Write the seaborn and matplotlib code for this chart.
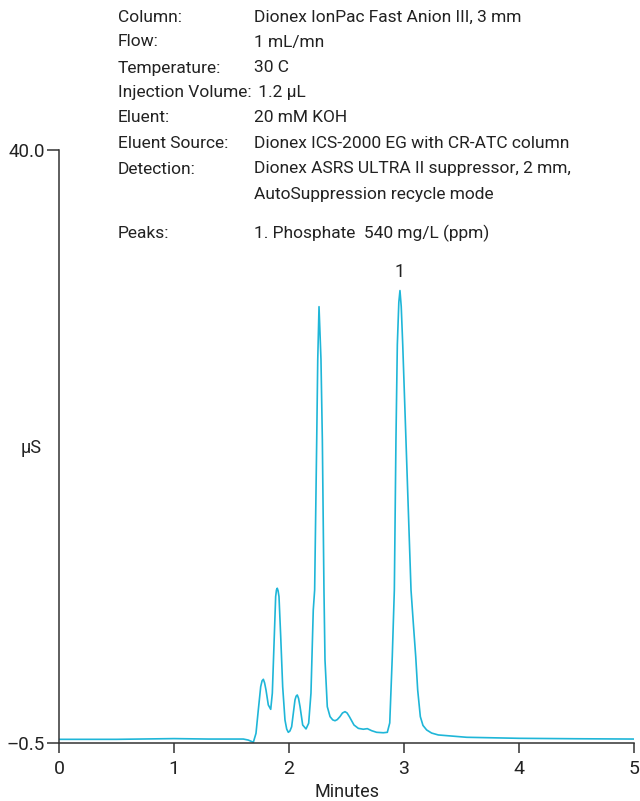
import matplotlib
matplotlib.use("Agg")
import matplotlib.pyplot as plt
import seaborn as sns
import pandas as pd

# Chromatogram trace: retention time (min) and conductivity (µS)
time_min = [
    0.00, 0.50, 1.00, 1.30, 1.487, 1.603, 1.646, 1.690, 1.713, 1.733, 1.754,
    1.766, 1.777, 1.788, 1.800, 1.820, 1.841, 1.855, 1.870, 1.884, 1.891,
    1.898, 1.905, 1.913, 1.928, 1.945, 1.965, 1.980, 1.994, 2.008, 2.023,
    2.052, 2.062, 2.072, 2.083, 2.096, 2.119, 2.148, 2.171, 2.191, 2.211,
    2.223, 2.241, 2.250, 2.261, 2.278, 2.290, 2.304, 2.313, 2.333, 2.357,
    2.380, 2.400, 2.420, 2.443, 2.465, 2.487, 2.505, 2.525, 2.565, 2.603,
    2.646, 2.681, 2.719, 2.762, 2.820, 2.855, 2.876, 2.887, 2.898, 2.916,
    2.930, 2.942, 2.955, 2.965, 2.976, 2.989, 3.017, 3.061, 3.081, 3.102,
    3.119, 3.142, 3.165, 3.197, 3.240, 3.298, 3.545, 4.000, 4.500, 5.000,
]
signal_us = [
    -0.25, -0.25, -0.20, -0.23, -0.23, -0.23, -0.30, -0.45, 0.16, 1.75, 3.35,
    3.75, 3.85, 3.60, 3.12, 2.10, 1.80, 2.90, 6.31, 9.50, 9.95,
    10.07, 9.90, 9.50, 6.76, 3.35, 1.07, 0.45, 0.23, 0.32, 0.61,
    2.44, 2.70, 2.78, 2.55, 1.98, 0.73, 0.46, 0.85, 2.90, 8.58,
    9.95, 20.2, 25.7, 29.3, 25.7, 20.2, 9.95, 5.17, 1.98, 1.30,
    1.08, 1.02, 1.10, 1.30, 1.55, 1.64, 1.55, 1.30, 0.73, 0.50,
    0.44, 0.48, 0.34, 0.23, 0.20, 0.23, 0.87, 3.12, 5.39, 9.95,
    20.2, 26.7, 29.6, 30.4, 29.3, 26.7, 20.2, 9.95, 7.68, 5.39,
    3.12, 1.30, 0.70, 0.39, 0.18, 0.05, -0.11, -0.18, -0.21, -0.23,
]

# Labelled peak
peak_labels = ["1"]
peak_times = [2.965]
peak_heights = [30.4]

# Method conditions block
cond_names = ["Column:", "Flow:", "Temperature:", "Injection Volume:", "Eluent:",
              "Eluent Source:", "Detection:", "", "Peaks:"]
cond_values = ["Dionex IonPac Fast Anion III, 3 mm", "1 mL/mn", "30 C", " 1.2 µL",
               "20 mM KOH", "Dionex ICS-2000 EG with CR-ATC column",
               "Dionex ASRS ULTRA II suppressor, 2 mm,",
               "AutoSuppression recycle mode", "1. Phosphate  540 mg/L (ppm)"]
cond_rows_px = [17, 42, 68, 93, 118, 144, 169, 194, 233]

x_ticks = [0, 1, 2, 3, 4, 5]
y_ticks = [-0.5, 40.0]
y_tick_labels = ["\u20130.5", "40.0"]

sns.set_style("ticks")
plt.rcParams["font.family"] = ["Roboto", "DejaVu Sans"]
plt.rcParams["font.size"] = 12.5

W, H = 640, 801
TXT = "#222222"
fig = plt.figure(figsize=(W / 100, H / 100), dpi=100)
ax = fig.add_axes([59 / W, 1 - 743 / H, (634 - 59) / W, (743 - 150) / H])

df = pd.DataFrame({"Minutes": time_min, "uS": signal_us})
sns.lineplot(data=df, x="Minutes", y="uS", ax=ax, color="#1fb6d8",
             linewidth=1.2, estimator=None, sort=False)

ax.set_xlim(0, 5)
ax.set_ylim(-0.5, 40.0)
ax.set_xticks(x_ticks)
ax.set_xticklabels([str(v) for v in x_ticks])
ax.set_yticks(y_ticks)
ax.set_yticklabels(y_tick_labels)
ax.set_xlabel("Minutes", fontsize=13, labelpad=4, color=TXT)
ax.set_ylabel("")
fig.text(31 / W, 1 - 448 / H, "µS", ha="center", va="center",
         fontsize=13, color=TXT)

for side in ["top", "right"]:
    ax.spines[side].set_visible(False)
for side in ["left", "bottom"]:
    ax.spines[side].set_color("#333333")
    ax.spines[side].set_linewidth(1.1)
ax.tick_params(axis="x", direction="out", length=7, width=1.1, color="#333333",
               labelsize=14, pad=5, labelcolor=TXT)
ax.tick_params(axis="y", direction="out", length=9, width=1.1, color="#333333",
               labelsize=13.5, pad=1, labelcolor=TXT)

for lab, t, h in zip(peak_labels, peak_times, peak_heights):
    ax.annotate(lab, (t, h), xytext=(0, 7), textcoords="offset points",
                ha="center", va="bottom", fontsize=13, color=TXT)

for name, val, ypx in zip(cond_names, cond_values, cond_rows_px):
    if name:
        fig.text(118 / W, 1 - ypx / H, name, ha="left", va="center",
                 fontsize=12.5, color=TXT)
    fig.text(254 / W, 1 - ypx / H, val, ha="left", va="center",
             fontsize=12.5, color=TXT)

fig.savefig("out.png", dpi=100)
